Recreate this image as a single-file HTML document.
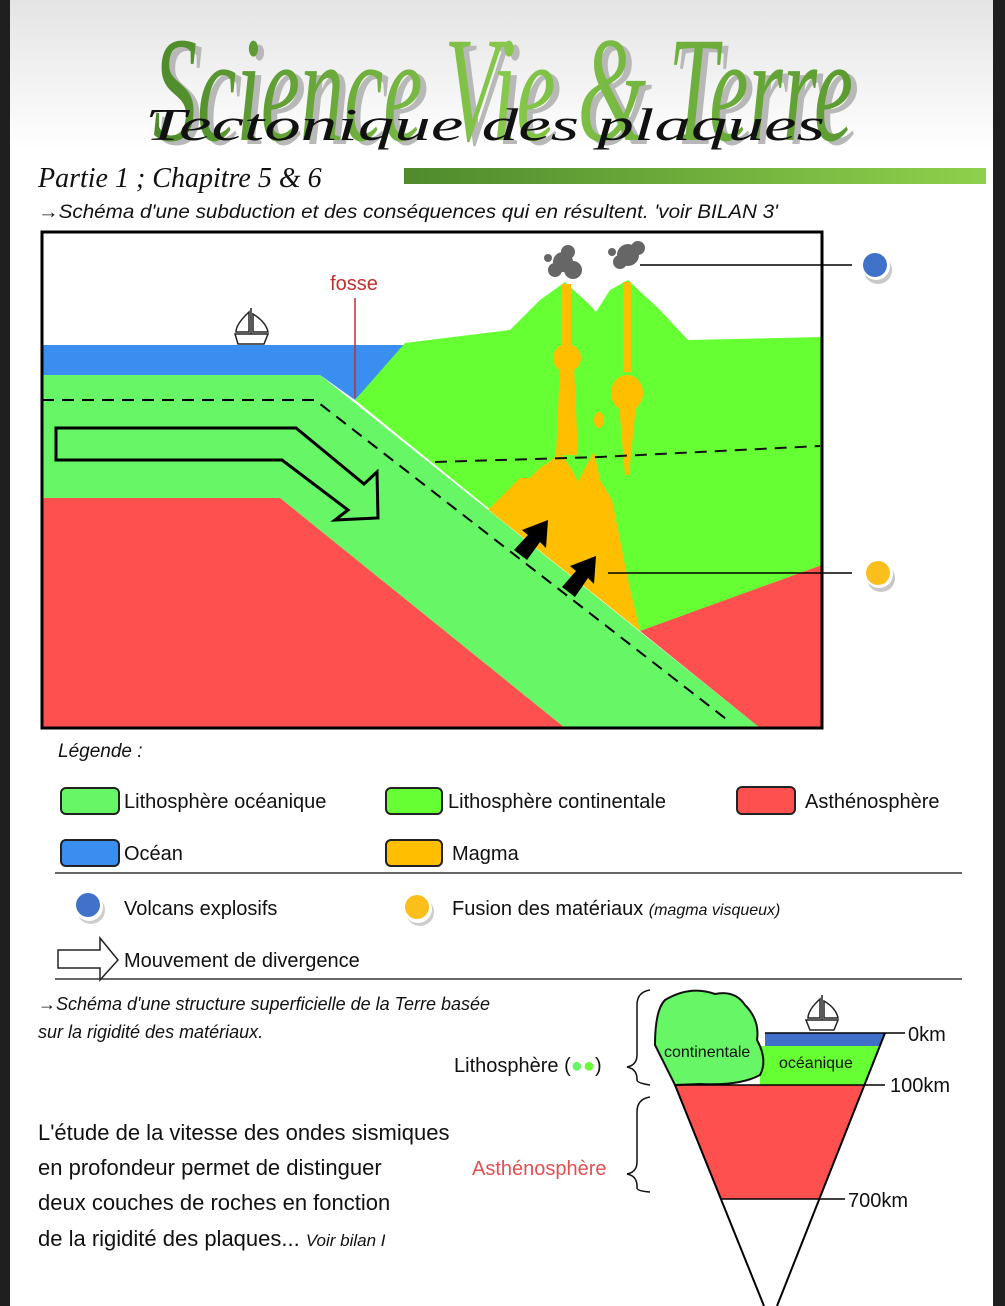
<!DOCTYPE html>
<html><head><meta charset="utf-8"><style>
html,body{margin:0;padding:0;background:#fff}
svg{display:block}
text{font-family:"Liberation Sans",sans-serif}
</style></head><body>
<svg width="1005" height="1306" viewBox="0 0 1005 1306" xmlns="http://www.w3.org/2000/svg">
<defs>
<linearGradient id="bg" x1="0" y1="0" x2="0" y2="1"><stop offset="0" stop-color="#e4e4e4"/><stop offset="1" stop-color="#ffffff"/></linearGradient>
<linearGradient id="bar" x1="0" y1="0" x2="1" y2="0"><stop offset="0" stop-color="#4f8a2c"/><stop offset="1" stop-color="#8ed14c"/></linearGradient>
<linearGradient id="tg" x1="0" y1="0" x2="1" y2="0"><stop offset="0" stop-color="#4e8a2a"/><stop offset="0.5" stop-color="#86c84a"/><stop offset="1" stop-color="#5a9a30"/></linearGradient>
</defs>
<rect width="1005" height="1306" fill="#fff"/>
<rect x="10" y="0" width="983" height="150" fill="url(#bg)"/>
<rect x="0" y="0" width="10" height="1306" fill="#1f1f1f"/>
<rect x="993" y="0" width="12" height="1306" fill="#1f1f1f"/>

<text x="503" y="140" text-anchor="middle" font-style="italic" font-size="150" fill="#b8b8b8" transform="translate(6,4)" textLength="700" lengthAdjust="spacingAndGlyphs" style="font-family:'Liberation Serif',serif">Science Vie &amp; Terre</text>
<text x="503" y="140" text-anchor="middle" font-style="italic" font-size="150" fill="url(#tg)" textLength="700" lengthAdjust="spacingAndGlyphs" style="font-family:'Liberation Serif',serif">Science Vie &amp; Terre</text>
<text x="485" y="140" text-anchor="middle" font-style="italic" font-size="46" fill="#111" textLength="680" lengthAdjust="spacingAndGlyphs" style="font-family:'Liberation Serif',serif">Tectonique des plaques</text>
<text x="38" y="187" font-style="italic" font-size="28" fill="#111" style="font-family:'Liberation Serif',serif">Partie 1 ; Chapitre 5 &amp; 6</text>
<rect x="404" y="168" width="582" height="16" fill="url(#bar)"/>
<text x="38" y="218" font-style="italic" font-size="19" fill="#111" textLength="740" lengthAdjust="spacingAndGlyphs">→Schéma d'une subduction et des conséquences qui en résultent. 'voir BILAN 3'</text>

<g>
<rect x="42" y="232" width="780" height="496" fill="#fff"/>
<polygon points="42,345 405,345 355,400 320,375 42,375" fill="#3a8ef0"/>
<polygon points="355,400 405,343 510,330 540,300 565,282 590,305 596,312 610,290 628,280 660,310 688,340 822,337 822,565 650,628 640,631" fill="#66ff33"/>
<polygon points="640,631 822,565 822,728 760,728" fill="#ff5050"/>
<g fill="#ffbf00">
<rect x="562" y="284" width="9" height="70"/>
<ellipse cx="567" cy="358" rx="14" ry="14"/>
<polygon points="560,365 574,365 578,455 556,455"/>
<rect x="623" y="282" width="8" height="90"/>
<ellipse cx="627" cy="393" rx="16" ry="18"/>
<polygon points="619,405 636,405 629,475 625,475"/>
<ellipse cx="599" cy="420" rx="5" ry="8"/>
<polygon points="488,510 508,490 520,478 530,478 540,468 552,460 560,452 572,470 578,482 588,462 594,452 600,480 612,500 620,540 628,580 640,631 490,511"/>
</g>
<polygon points="42,375 320,375 760,728 565,728 280,498 42,498" fill="#66f666"/>
<polygon points="42,498 280,498 565,728 42,728" fill="#ff5050"/>
<polyline points="42,400 315,400 730,722" fill="none" stroke="#000" stroke-width="2" stroke-dasharray="12,8"/>
<polyline points="435,462 600,457 820,446" fill="none" stroke="#111" stroke-width="2" stroke-dasharray="12,8"/>
<polygon points="56,428 296,428 364,484 377,472 378,518 335,520 348,510 282,460 56,460" fill="none" stroke="#000" stroke-width="3"/>
<g fill="#000">
<polygon points="514,550 527,560 540,542 546,548 548,520 522,530 528,535" />
<polygon points="562,587 575,597 588,578 594,584 596,556 570,566 576,571"/>
</g>
<line x1="355" y1="298" x2="355" y2="398" stroke="#c03030" stroke-width="1.5"/>
<text x="354" y="290" text-anchor="middle" font-size="20" fill="#c03030">fosse</text>
<g stroke="#222" stroke-width="1.5" fill="#fff">
<path d="M235,334 L268,334 L264,344 L238,344 Z"/>
<line x1="251" y1="308" x2="251" y2="334"/>
<path d="M249,312 Q236,324 236,332 L249,332 Z"/>
<path d="M253,314 Q266,322 268,332 L253,332 Z"/>
</g>
<g fill="#666">
<circle cx="563" cy="262" r="10"/><circle cx="573" cy="270" r="9"/><circle cx="555" cy="270" r="7"/><circle cx="568" cy="252" r="7"/><circle cx="548" cy="258" r="4"/>
<circle cx="628" cy="255" r="11"/><circle cx="638" cy="248" r="7"/><circle cx="620" cy="262" r="7"/><circle cx="612" cy="252" r="4"/>
</g>
<rect x="42" y="232" width="780" height="496" fill="none" stroke="#000" stroke-width="3"/>
</g>
<line x1="640" y1="265" x2="852" y2="265" stroke="#000" stroke-width="1.5"/>
<line x1="608" y1="573" x2="852" y2="573" stroke="#000" stroke-width="1.5"/>
<circle cx="878" cy="270" r="14" fill="#c8c8c8"/><circle cx="876" cy="266" r="14" fill="#fff"/><circle cx="875" cy="265" r="12" fill="#3f72c8"/>
<circle cx="881" cy="578" r="14" fill="#c8c8c8"/><circle cx="879" cy="574" r="14" fill="#fff"/><circle cx="878" cy="573" r="12" fill="#fbbf1c"/>

<text x="58" y="757" font-style="italic" font-size="19" fill="#111">Légende :</text>
<rect x="61" y="788" width="58" height="26" rx="5" fill="#66f666" stroke="#222" stroke-width="2"/>
<text x="124" y="808" font-size="20" fill="#111">Lithosphère océanique</text>
<rect x="386" y="788" width="56" height="26" rx="5" fill="#66ff33" stroke="#222" stroke-width="2"/>
<text x="448" y="808" font-size="20" fill="#111">Lithosphère continentale</text>
<rect x="737" y="787" width="58" height="27" rx="5" fill="#ff5050" stroke="#222" stroke-width="2"/>
<text x="805" y="808" font-size="20" fill="#111">Asthénosphère</text>
<rect x="61" y="840" width="58" height="26" rx="5" fill="#3a8ef0" stroke="#222" stroke-width="2"/>
<text x="124" y="860" font-size="20" fill="#111">Océan</text>
<rect x="386" y="840" width="56" height="26" rx="5" fill="#ffbf00" stroke="#222" stroke-width="2"/>
<text x="452" y="860" font-size="20" fill="#111">Magma</text>
<line x1="55" y1="873" x2="962" y2="873" stroke="#333" stroke-width="1.5"/>
<circle cx="91" cy="910" r="14" fill="#ccc"/><circle cx="89" cy="907" r="14" fill="#fff"/><circle cx="88" cy="905" r="12" fill="#3f72c8"/>
<text x="124" y="915" font-size="20" fill="#111">Volcans explosifs</text>
<circle cx="420" cy="912" r="14" fill="#ccc"/><circle cx="418" cy="909" r="14" fill="#fff"/><circle cx="417" cy="907" r="12" fill="#fbbf1c"/>
<text x="452" y="915" font-size="20" fill="#111">Fusion des matériaux <tspan font-style="italic" font-size="16">(magma visqueux)</tspan></text>
<polygon points="58,950 100,950 100,938 118,960 100,980 100,968 58,968" fill="#fff" stroke="#222" stroke-width="1.5"/>
<text x="124" y="967" font-size="20" fill="#111">Mouvement de divergence</text>
<line x1="55" y1="979" x2="962" y2="979" stroke="#333" stroke-width="1.5"/>

<text x="38" y="1010" font-style="italic" font-size="18" fill="#111">→Schéma d'une structure superficielle  de la Terre basée</text>
<text x="38" y="1038" font-style="italic" font-size="18" fill="#111">sur la rigidité des matériaux.</text>
<text x="454" y="1072" font-size="20" fill="#111">Lithosphère (<tspan fill="#66f666">●</tspan><tspan fill="#66ff33">●</tspan>)</text>
<text x="38" y="1140" font-size="22" fill="#111">L'étude de la vitesse des ondes sismiques</text>
<text x="38" y="1175" font-size="22" fill="#111">en profondeur permet de distinguer</text>
<text x="472" y="1175" font-size="20" fill="#e05050">Asthénosphère</text>
<text x="38" y="1210" font-size="22" fill="#111">deux couches de roches en fonction</text>
<text x="38" y="1246" font-size="22" fill="#111">de la rigidité des plaques... <tspan font-style="italic" font-size="17">Voir bilan I</tspan></text>
<path d="M650,990 Q637,992 637,1005 L637,1055 Q637,1065 627,1067 Q637,1069 637,1079 L637,1080 Q637,1083 650,1085" fill="none" stroke="#111" stroke-width="1.5"/>
<path d="M650,1097 Q637,1099 637,1112 L637,1162 Q637,1172 627,1174 Q637,1176 637,1186 L637,1188 Q637,1191 650,1192" fill="none" stroke="#111" stroke-width="1.5"/>
<polygon points="675,1085 865,1085 820,1199 720,1199" fill="#ff5050"/>
<polygon points="765,1033 885,1033 880,1046 765,1046" fill="#3f6fc8"/>
<polygon points="760,1046 880,1046 865,1085 760,1085" fill="#66ff33"/>
<path d="M665,1000 Q690,985 715,994 Q735,990 745,1005 Q760,1020 757,1040 Q768,1060 760,1075 Q740,1086 700,1084 L675,1085 L655,1045 Q655,1010 665,1000 Z" fill="#66f666" stroke="#111" stroke-width="2"/>
<polyline points="675,1085 764,1306" fill="none" stroke="#000" stroke-width="2"/>
<polyline points="885,1033 777,1306" fill="none" stroke="#000" stroke-width="2"/>
<line x1="765" y1="1033" x2="905" y2="1033" stroke="#000" stroke-width="1.5"/>
<line x1="675" y1="1085" x2="885" y2="1085" stroke="#000" stroke-width="1.5"/>
<line x1="720" y1="1199" x2="845" y2="1199" stroke="#000" stroke-width="1.5"/>
<text x="908" y="1041" font-size="20" fill="#111">0km</text>
<text x="890" y="1092" font-size="20" fill="#111">100km</text>
<text x="848" y="1207" font-size="20" fill="#111">700km</text>
<text x="664" y="1057" font-size="16" fill="#111">continentale</text>
<text x="779" y="1068" font-size="16" fill="#111">océanique</text>
<g stroke="#222" stroke-width="1.5" fill="#fff">
<path d="M806,1020 L838,1020 L834,1030 L810,1030 Z"/>
<line x1="822" y1="995" x2="822" y2="1020"/>
<path d="M820,999 Q808,1010 808,1018 L820,1018 Z"/>
<path d="M824,1001 Q836,1008 838,1018 L824,1018 Z"/>
</g>
</svg>
</body></html>
